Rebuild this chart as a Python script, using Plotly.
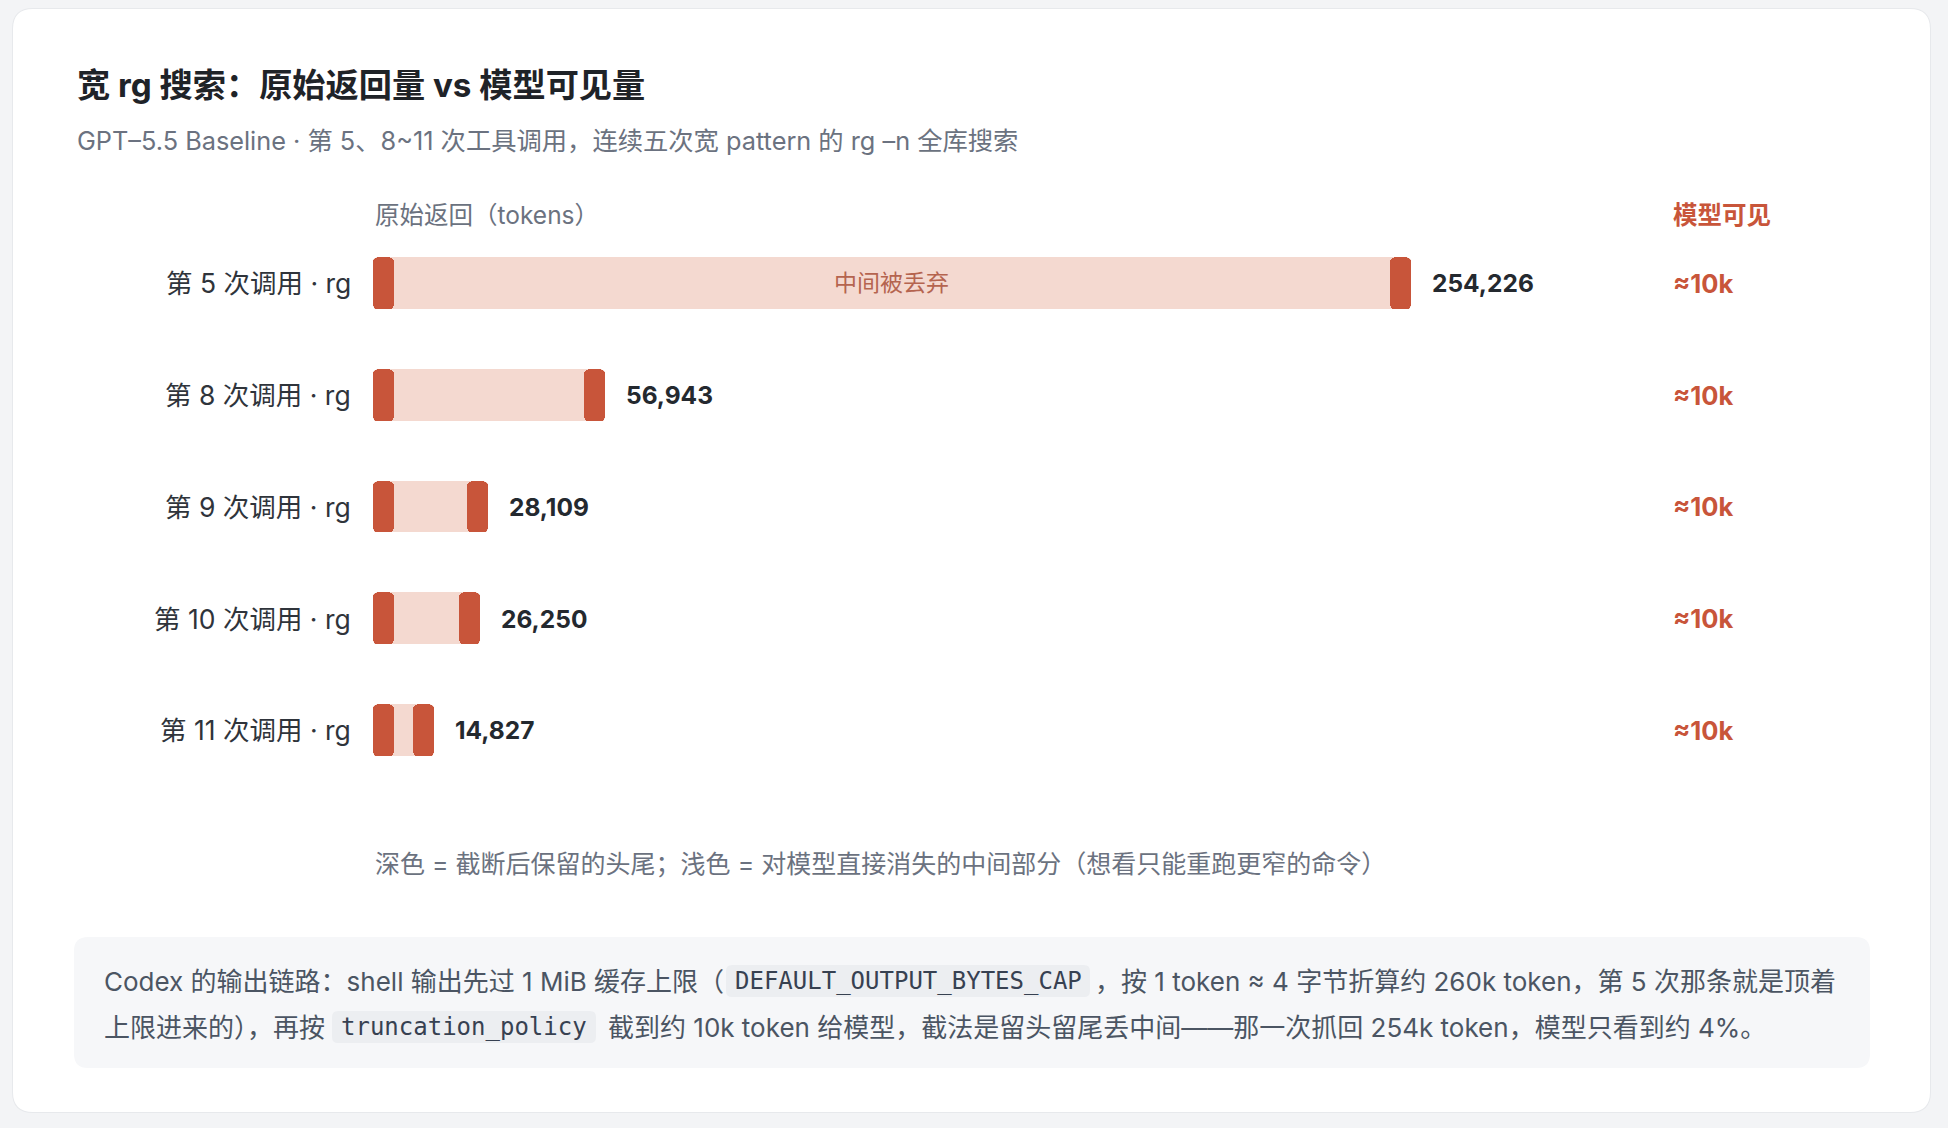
import plotly.graph_objects as go

# ---------------- data ----------------
CALLS = ["第 5 次调用 · rg", "第 8 次调用 · rg", "第 9 次调用 · rg",
         "第 10 次调用 · rg", "第 11 次调用 · rg"]
RAW_TOKENS = [254226, 56943, 28109, 26250, 14827]
VISIBLE = ["≈10k", "≈10k", "≈10k", "≈10k", "≈10k"]
MIDDLE_LABEL = "中间被丢弃"

TITLE = "宽 rg 搜索：原始返回量 vs 模型可见量"
SUBTITLE = "GPT–5.5 Baseline · 第 5、8~11 次工具调用，连续五次宽 pattern 的 rg –n 全库搜索"
COL_LEFT = "原始返回（tokens）"
COL_RIGHT = "模型可见"
NOTE = "深色 = 截断后保留的头尾；浅色 = 对模型直接消失的中间部分（想看只能重跑更窄的命令）"
FOOT_A = "Codex 的输出链路：shell 输出先过 1 MiB 缓存上限（"
FOOT_CODE1 = "DEFAULT_OUTPUT_BYTES_CAP"
FOOT_B = "，按 1 token ≈ 4 字节折算约 260k token，第 5 次那条就是顶着"
FOOT_C = "上限进来的），再按"
FOOT_CODE2 = "truncation_policy"
FOOT_D = "截到约 10k token 给模型，截法是留头留尾丢中间——那一次抓回 254k token，模型只看到约 4%。"

# ---------------- style ----------------
W, H = 1948, 1128
FONT = "Inter, 'Noto Sans CJK SC', sans-serif"
MONO = "'DejaVu Sans Mono', 'Liberation Mono', monospace"
DARK = "#C8553A"
LIGHT = "#F4D9D0"
MID_TXT = "#B5644F"
GRAY = "#6B7280"
TXT = "#2F343B"
BG = "#F3F4F6"

X_MAX = 366650          # axis range (tokens)
PLOT_X0, PLOT_X1 = 373, 1870
PLOT_Y0, PLOT_Y1 = 227.3, 786.4
CAP_PX = 21
cap_w = CAP_PX * X_MAX / (PLOT_X1 - PLOT_X0)
BAR_W = 0.464


def px(x):
    return x / W


def py(y):
    return 1 - y / H


def rr_path(x0, y0, x1, y1, r):
    return (f"M {px(x0 + r)},{py(y0)} L {px(x1 - r)},{py(y0)} "
            f"Q {px(x1)},{py(y0)} {px(x1)},{py(y0 + r)} "
            f"L {px(x1)},{py(y1 - r)} Q {px(x1)},{py(y1)} {px(x1 - r)},{py(y1)} "
            f"L {px(x0 + r)},{py(y1)} Q {px(x0)},{py(y1)} {px(x0)},{py(y1 - r)} "
            f"L {px(x0)},{py(y0 + r)} Q {px(x0)},{py(y0)} {px(x0 + r)},{py(y0)} Z")


fig = go.Figure()

# light full bar (raw tokens)
fig.add_trace(go.Bar(y=CALLS, x=RAW_TOKENS, base=[0] * len(CALLS), orientation="h",
                     width=BAR_W, marker=dict(color=LIGHT, line=dict(width=0), cornerradius=4),
                     hoverinfo="skip", showlegend=False))

# dark head cap (drawn from cap edge back to 0 so the outer end is rounded)
fig.add_trace(go.Bar(y=CALLS, x=[-cap_w] * len(CALLS), base=[cap_w] * len(CALLS), orientation="h",
                     width=BAR_W, marker=dict(color=DARK, line=dict(width=0), cornerradius=5),
                     hoverinfo="skip", showlegend=False))
# dark tail cap
fig.add_trace(go.Bar(y=CALLS, x=[cap_w] * len(CALLS), base=[v - cap_w for v in RAW_TOKENS],
                     orientation="h", width=BAR_W,
                     marker=dict(color=DARK, line=dict(width=0), cornerradius=5),
                     hoverinfo="skip", showlegend=False))

annotations = []
# row labels
for c in CALLS:
    annotations.append(dict(x=px(353), xref="paper", y=c, yref="y", text=c, showarrow=False,
                            xanchor="right", yanchor="middle", font=dict(size=26.5, color=TXT, family=FONT)))
# value labels
for c, v in zip(CALLS, RAW_TOKENS):
    annotations.append(dict(x=v, xref="x", y=c, yref="y", text=f"<b>{v:,}</b>", showarrow=False,
                            xanchor="left", yanchor="middle", xshift=19,
                            font=dict(size=24.5, color="#24292F", family=FONT)))
# visible column
for c, t in zip(CALLS, VISIBLE):
    annotations.append(dict(x=px(1671), xref="paper", y=c, yref="y", text=f"<b>{t}</b>", showarrow=False,
                            xanchor="left", yanchor="middle", font=dict(size=25.5, color=DARK, family=FONT)))
# middle label inside the widest bar
annotations.append(dict(x=RAW_TOKENS[0] / 2, xref="x", y=CALLS[0], yref="y", text=MIDDLE_LABEL,
                        showarrow=False, xanchor="center", yanchor="middle",
                        font=dict(size=23, color=MID_TXT, family=FONT)))


def txt(x, y, text, size, color, anchor="left", family=FONT):
    annotations.append(dict(x=px(x), y=py(y), xref="paper", yref="paper", text=text, showarrow=False,
                            xanchor=anchor, yanchor="middle", font=dict(size=size, color=color, family=family)))


txt(75, 85, f"<b>{TITLE}</b>", 33.2, "#1F2328")
txt(75, 140, SUBTITLE, 25.3, GRAY)
txt(373, 215, COL_LEFT, 24.5, GRAY)
txt(1671, 215, f"<b>{COL_RIGHT}</b>", 24.5, DARK)
txt(373, 864, NOTE, 25, GRAY)

FOOT_COL = "#4B5563"
txt(102, 981, FOOT_A, 26, FOOT_COL)
txt(908, 981, FOOT_CODE1, 24, "#374151", anchor="center", family=MONO)
txt(1093, 981, FOOT_B, 26, FOOT_COL)
txt(102, 1027, FOOT_C, 26, FOOT_COL)
txt(464, 1027, FOOT_CODE2, 24, "#374151", anchor="center", family=MONO)
txt(606, 1027, FOOT_D, 26, FOOT_COL)

shapes = [
    dict(type="path", xref="paper", yref="paper", path=rr_path(12, 8, 1931, 1113, 21),
         fillcolor="#E7E9EC", line=dict(width=0), layer="below"),
    dict(type="path", xref="paper", yref="paper", path=rr_path(13, 9, 1930, 1112, 20),
         fillcolor="#FFFFFF", line=dict(width=0), layer="below"),
    dict(type="path", xref="paper", yref="paper", path=rr_path(74, 937, 1870, 1068, 14),
         fillcolor="#F6F7F9", line=dict(width=0), layer="below"),
    dict(type="path", xref="paper", yref="paper", path=rr_path(726, 965, 1090, 997, 6),
         fillcolor="#ECEEF1", line=dict(width=0), layer="below"),
    dict(type="path", xref="paper", yref="paper", path=rr_path(332, 1011, 596, 1043, 6),
         fillcolor="#ECEEF1", line=dict(width=0), layer="below"),
]

fig.update_layout(
    width=W, height=H,
    margin=dict(l=0, r=0, t=0, b=0),
    paper_bgcolor=BG, plot_bgcolor="rgba(0,0,0,0)",
    barmode="overlay", bargap=0,
    font=dict(family=FONT),
    xaxis=dict(domain=[px(PLOT_X0), px(PLOT_X1)], range=[0, X_MAX], visible=False, fixedrange=True),
    yaxis=dict(domain=[py(PLOT_Y1), py(PLOT_Y0)], type="category", categoryorder="array",
               categoryarray=CALLS, range=[len(CALLS) - 0.5, -0.5], visible=False, fixedrange=True),
    annotations=annotations,
    shapes=shapes,
    showlegend=False,
)

fig.write_html("out.html", config={"displayModeBar": False},
               post_script="document.body.style.margin='0';document.body.style.overflow='hidden';")
